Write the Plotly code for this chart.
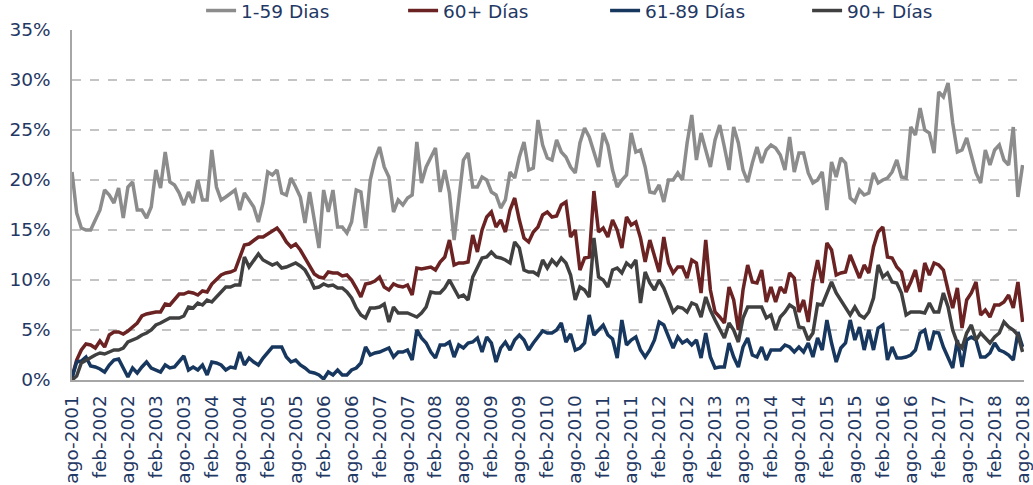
import plotly.graph_objects as go

MESES = ["ene", "feb", "mar", "abr", "may", "jun", "jul", "ago", "sep", "oct", "nov", "dic"]
N_MONTHS = 205  # ago-2001 .. ago-2018
months = [f"{MESES[(7 + i) % 12]}-{2001 + (7 + i) // 12}" for i in range(N_MONTHS)]
tick_labels = months[::6]

s_1_59 = [
    20.8, 16.7, 15.2, 15.0, 15.0, 16.0, 17.0, 19.0, 18.5, 17.7, 19.2, 16.2,
    19.3, 19.8, 17.0, 17.0, 16.2, 17.3, 21.0, 19.2, 22.8, 19.8, 19.5, 18.7,
    17.5, 18.8, 17.7, 20.0, 18.0, 18.0, 23.0, 19.3, 18.0, 18.3, 18.7, 19.0,
    17.0, 18.7, 18.0, 17.3, 15.8, 17.7, 20.8, 20.5, 21.0, 18.7, 18.5, 20.2,
    19.3, 18.3, 15.7, 18.8, 16.0, 13.2, 19.0, 16.8, 19.0, 15.3, 15.3, 14.7,
    15.8, 19.0, 18.8, 15.2, 20.0, 22.0, 23.3, 21.3, 20.3, 16.8, 18.0, 17.5,
    18.2, 18.5, 23.8, 19.7, 21.3, 22.3, 23.2, 18.8, 21.0, 18.7, 14.0, 18.0,
    22.0, 22.7, 19.3, 19.3, 20.3, 20.0, 18.8, 18.5, 17.2, 18.0, 20.8, 20.2,
    22.3, 23.8, 21.0, 21.2, 26.0, 23.5, 22.2, 22.0, 24.0, 22.8, 22.3, 21.3,
    20.7, 23.7, 25.2, 24.3, 22.8, 21.3, 24.7, 23.5, 21.0, 19.3, 20.0, 20.5,
    24.7, 22.8, 23.0, 21.3, 18.8, 18.7, 19.5, 17.8, 20.0, 20.0, 20.7, 20.0,
    23.7, 26.5, 22.0, 24.7, 23.0, 21.3, 24.0, 25.5, 23.3, 21.0, 25.3, 23.7,
    21.0, 19.8, 21.7, 23.3, 21.7, 23.0, 23.5, 23.2, 22.5, 21.0, 24.3, 20.8,
    22.7, 22.7, 20.7, 19.7, 20.0, 20.8, 17.0, 21.8, 20.3, 22.2, 21.7, 18.2,
    17.8, 19.0, 18.5, 18.7, 20.7, 19.7, 20.0, 20.2, 20.8, 22.0, 20.3, 20.2,
    25.3, 24.5, 27.2, 25.0, 24.7, 22.7, 28.8, 28.3, 29.7, 25.7, 22.8, 23.0,
    24.2, 22.3, 20.7, 19.7, 23.0, 21.5, 23.0, 23.5, 22.0, 21.5, 25.3, 18.3,
    21.5,
]

s_60 = [
    0.3, 2.0, 3.0, 3.6, 3.5, 3.2, 3.9, 3.3, 4.5, 4.8, 4.8, 4.6,
    4.9, 5.3, 5.7, 6.4, 6.6, 6.7, 6.8, 6.8, 7.6, 7.5, 8.0, 8.6,
    8.6, 8.8, 8.7, 8.5, 8.9, 8.8, 9.6, 10.0, 10.5, 10.7, 10.8, 11.0,
    12.3, 13.5, 13.6, 13.9, 14.3, 14.3, 14.6, 15.0, 15.2, 14.6, 13.8, 13.3,
    13.6, 13.0, 12.2, 11.3, 10.6, 10.3, 10.2, 10.8, 10.7, 10.7, 10.4, 10.5,
    10.0, 9.2, 8.3, 9.6, 9.7, 9.9, 10.3, 9.3, 9.0, 9.6, 9.4, 9.3,
    9.5, 8.5, 11.2, 11.1, 11.2, 11.3, 11.0, 11.8, 12.3, 14.0, 11.5, 11.7,
    11.7, 11.8, 14.5, 12.8, 15.0, 16.3, 16.8, 15.3, 16.0, 14.8, 17.0, 18.2,
    16.0, 14.2, 13.8, 14.8, 15.3, 16.5, 16.8, 16.3, 16.4, 17.5, 17.8, 14.3,
    15.0, 11.0, 12.2, 12.3, 18.9, 14.8, 15.2, 14.3, 16.0, 15.0, 13.2, 16.3,
    15.5, 15.8, 14.2, 11.8, 14.0, 12.5, 10.8, 14.3, 11.7, 10.7, 11.3, 11.3,
    10.2, 12.0, 11.7, 8.7, 14.0, 9.0, 6.8, 6.3, 5.7, 9.3, 8.0, 5.0,
    9.0, 11.5, 9.8, 9.7, 11.0, 7.8, 9.3, 7.8, 9.3, 8.7, 10.7, 10.2,
    6.8, 8.0, 5.8, 9.7, 12.0, 9.7, 13.7, 13.0, 10.5, 10.7, 10.8, 12.5,
    11.3, 10.2, 11.5, 10.7, 13.3, 14.8, 15.3, 12.3, 12.2, 11.3, 10.8, 8.8,
    9.8, 11.0, 8.8, 11.7, 10.5, 11.7, 11.5, 11.0, 9.0, 7.2, 9.2, 5.2,
    8.0, 8.7, 9.8, 6.5, 7.0, 6.3, 7.5, 7.5, 7.8, 8.5, 7.2, 9.8,
    5.8,
]

s_61_89 = [
    0.2, 1.8, 1.9, 2.3, 1.4, 1.3, 1.1, 0.8, 1.5, 2.0, 2.1, 1.2,
    0.3, 1.2, 0.7, 1.3, 1.8, 1.2, 1.0, 0.8, 1.5, 1.2, 1.3, 1.8,
    2.4, 1.0, 1.3, 1.0, 1.5, 0.5, 1.8, 1.7, 1.5, 1.0, 1.3, 1.2,
    2.8, 1.5, 2.2, 1.8, 1.5, 2.2, 2.8, 3.3, 3.3, 3.3, 2.3, 1.8,
    2.0, 1.5, 1.2, 0.8, 0.7, 0.5, 0.1, 0.8, 0.5, 1.0, 0.5, 0.5,
    1.0, 1.2, 1.7, 3.3, 2.5, 2.7, 2.8, 3.0, 3.2, 2.3, 2.8, 2.8,
    3.0, 2.0, 5.0, 4.2, 3.7, 2.8, 2.2, 3.5, 3.5, 3.8, 2.3, 3.5,
    3.2, 3.7, 3.8, 4.2, 2.8, 4.3, 3.7, 1.8, 3.2, 3.8, 3.0, 4.0,
    4.5, 4.0, 3.0, 3.7, 4.3, 4.9, 4.7, 4.7, 5.0, 5.7, 3.8, 4.6,
    3.0, 3.2, 3.7, 6.5, 4.5, 5.0, 5.5, 4.5, 4.1, 2.2, 6.0, 3.5,
    4.0, 4.3, 3.0, 2.3, 3.0, 4.0, 5.8, 5.5, 4.3, 3.2, 4.3, 3.7,
    4.0, 3.5, 4.0, 2.2, 4.7, 2.3, 1.2, 1.3, 1.3, 3.7, 2.3, 1.3,
    3.3, 4.2, 2.5, 2.3, 3.3, 2.0, 3.0, 3.0, 3.0, 3.5, 3.3, 2.8,
    3.3, 2.8, 3.7, 2.3, 4.2, 3.0, 6.0, 3.7, 1.8, 3.2, 3.7, 6.0,
    4.0, 5.3, 3.0, 5.0, 3.0, 5.2, 5.5, 2.0, 3.3, 2.2, 2.2, 2.3,
    2.5, 3.0, 4.7, 5.0, 3.0, 4.8, 4.7, 3.3, 2.2, 1.2, 4.0, 1.3,
    4.0, 4.3, 4.0, 2.3, 2.3, 2.7, 3.7, 3.0, 2.8, 2.5, 2.0, 4.8,
    3.3,
]

s_90 = [
    0.0, 0.4, 1.7, 2.0, 2.2, 2.5, 2.7, 2.6, 2.8, 3.0, 3.0, 3.2,
    3.8, 4.0, 4.2, 4.5, 4.7, 5.0, 5.5, 5.7, 6.0, 6.2, 6.2, 6.2,
    6.4, 7.3, 7.2, 7.7, 7.5, 8.0, 7.8, 8.3, 8.8, 9.3, 9.3, 9.5,
    9.5, 12.3, 11.3, 12.0, 12.6, 12.0, 11.7, 11.5, 11.7, 11.2, 11.3, 11.5,
    11.7, 11.4, 11.0, 10.2, 9.2, 9.3, 9.6, 9.4, 9.5, 9.2, 9.2, 8.8,
    8.2, 7.2, 6.5, 6.2, 7.2, 7.2, 7.3, 7.6, 5.8, 7.3, 6.7, 6.7,
    6.7, 6.5, 6.3, 6.7, 7.3, 8.8, 8.7, 8.7, 9.2, 10.0, 9.2, 8.3,
    8.5, 8.0, 10.3, 11.3, 12.2, 12.3, 12.8, 12.3, 12.2, 12.0, 11.7, 13.8,
    13.2, 11.0, 10.8, 10.8, 10.5, 12.0, 11.2, 12.0, 11.5, 12.2, 11.7, 10.5,
    8.0, 9.3, 9.0, 8.3, 14.2, 10.3, 10.0, 9.3, 11.0, 11.2, 10.7, 11.7,
    11.3, 12.0, 7.7, 10.8, 9.7, 9.0, 10.0, 9.2, 8.0, 6.8, 7.3, 7.2,
    6.8, 7.7, 7.5, 6.3, 8.3, 7.0, 6.0, 5.0, 4.2, 5.7, 5.0, 3.8,
    6.2, 7.3, 7.3, 7.3, 7.3, 6.2, 6.5, 5.0, 6.3, 6.8, 7.5, 7.2,
    5.3, 5.2, 4.0, 4.7, 7.6, 7.5, 8.7, 9.8, 8.7, 8.0, 7.3, 6.5,
    7.3, 6.5, 6.2, 6.8, 8.2, 11.5, 10.3, 10.7, 9.8, 9.7, 8.7, 6.5,
    6.8, 6.8, 6.8, 6.7, 7.7, 6.8, 6.8, 8.7, 7.3, 5.0, 3.7, 3.2,
    4.7, 5.5, 4.0, 4.7, 4.2, 3.7, 4.3, 4.7, 5.8, 5.3, 5.0, 4.5,
    2.8,
]

series_names = ["1-59 Dias", "60+ Días", "61-89 Días", "90+ Días"]
series_values = [s_1_59, s_60, s_61_89, s_90]
series_colors = ["#8C8C8C", "#6B2222", "#17375E", "#404040"]

TEXT = "#1F3864"
FONT = "DejaVu Sans"
FS = 18.5

fig = go.Figure()
for name, vals, col in zip(series_names, series_values, series_colors):
    fig.add_trace(go.Scatter(
        x=months, y=vals, name=name, mode="lines",
        line=dict(color=col, width=3.5),
    ))

fig.update_layout(
    width=1033, height=485,
    margin=dict(l=72, r=9, t=30, b=105, autoexpand=False),
    paper_bgcolor="white", plot_bgcolor="white",
    font=dict(family=FONT, size=FS, color=TEXT),
    showlegend=True,
    legend=dict(orientation="h", x=0.1356, xanchor="left", y=1.0, yanchor="bottom",
                font=dict(family=FONT, size=FS, color=TEXT),
                bgcolor="rgba(0,0,0,0)", itemwidth=30,
                entrywidth=157, entrywidthmode="pixels"),
)
fig.update_xaxes(
    type="category", categoryorder="array", categoryarray=months,
    range=[0, N_MONTHS - 1 + 0.3],
    tickmode="array", tickvals=tick_labels, ticktext=tick_labels,
    tickangle=-90, showgrid=False, zeroline=False,
    showline=True, linecolor="#A6A6A6", linewidth=1.5,
    ticks="", ticklabelstandoff=6, automargin=False,
    tickfont=dict(family=FONT, size=FS, color=TEXT),
)
fig.update_yaxes(
    range=[0, 35], tickmode="array", tickvals=[0, 5, 10, 15, 20, 25, 30, 35],
    ticktext=["0%", "5%", "10%", "15%", "20%", "25%", "30%", "35%"],
    showgrid=True, gridcolor="#C4C4C4", gridwidth=1.5, griddash="dash",
    zeroline=False, showline=True, linecolor="#A6A6A6", linewidth=1.5,
    ticks="", ticklabelstandoff=16, automargin=False,
    tickfont=dict(family=FONT, size=FS, color=TEXT),
)

fig.write_html("out.html", config={"displayModeBar": False},
               post_script="document.body.style.margin='0';")
